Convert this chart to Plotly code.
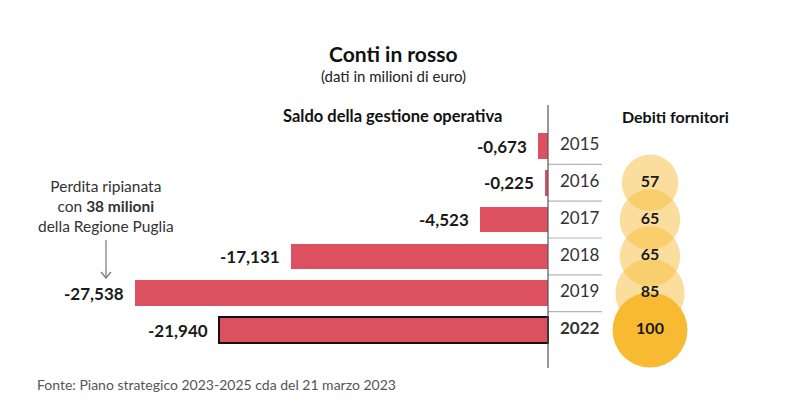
import plotly.graph_objects as go

years = ["2015", "2016", "2017", "2018", "2019", "2022"]
saldo = [-0.673, -0.225, -4.523, -17.131, -27.538, -21.940]
saldo_labels = ["-0,673", "-0,225", "-4,523", "-17,131", "-27,538", "-21,940"]
debiti_years = ["2016", "2017", "2018", "2019", "2022"]
debiti = [57, 65, 65, 85, 100]

OFF = 8  # page body margin
W, H = 800 - OFF, 409 - OFF


def px(x):
    return (x - OFF) / W


def py(y):
    return 1 - (y - OFF) / H


px_per_unit = 15.0
zero_px = 548 - OFF
xr = [-zero_px / px_per_unit, (W - zero_px) / px_per_unit]
row0, row_h = 146 - OFF, 36.8
yr = [(H - row0) / row_h, -row0 / row_h]

BAR = "#DC5060"
fig = go.Figure()

# bars
fig.add_trace(go.Bar(
    y=years, x=saldo, orientation="h", width=0.7,
    marker=dict(color=BAR,
                line=dict(color=["rgba(0,0,0,0)"] * 5 + ["#111111"], width=[0] * 5 + [2])),
    hoverinfo="skip", xaxis="x", yaxis="y",
))
# year labels
year_text = [f"<b>{y}</b>" if y == "2022" else y for y in years]
fig.add_trace(go.Scatter(
    y=years, x=[0.8] * len(years), mode="text", text=year_text,
    textposition="middle right",
    textfont=dict(family="Lato", size=17, color="#333333"),
    hoverinfo="skip", xaxis="x", yaxis="y",
))
# bubbles
max_d = 75
sref = 2 * max(debiti) / (max_d ** 2)
fig.add_trace(go.Scatter(
    y=debiti_years, x=[0] * len(debiti), mode="markers+text",
    text=[str(v) for v in debiti],
    textposition="middle center",
    textfont=dict(family="Lato", size=16, color="#1a1a1a", weight="bold"),
    marker=dict(size=debiti, sizemode="area", sizeref=sref, opacity=1,
                color=["rgba(248,190,60,0.5)"] * 4 + ["rgb(248,185,51)"],
                line=dict(width=0)),
    hoverinfo="skip", xaxis="x2", yaxis="y",
))

shapes = []
for i in range(5):
    shapes.append(dict(type="line", xref="x", yref="y", x0=0, x1=(602 - 548) / px_per_unit,
                       y0=i + 0.5, y1=i + 0.5, line=dict(color="#b5b5b5", width=1.2), layer="below"))
shapes.append(dict(type="line", xref="x", yref="y", x0=0, x1=0,
                   y0=(105 - 146) / row_h, y1=(368 - 146) / row_h,
                   line=dict(color="#555555", width=1.2)))
# annotation arrow (line + open chevron)
ax_px, a_top, a_bot = 106, 240, 278
shapes.append(dict(type="line", xref="paper", yref="paper", x0=px(ax_px), x1=px(ax_px),
                   y0=py(a_top), y1=py(a_bot), line=dict(color="#777777", width=1.2)))
shapes.append(dict(type="path", xref="paper", yref="paper",
                   path=f"M {px(ax_px - 5)},{py(a_bot - 6)} L {px(ax_px)},{py(a_bot)} "
                        f"L {px(ax_px + 5)},{py(a_bot - 6)}",
                   line=dict(color="#777777", width=1.2)))

annotations = []
# value labels (category axis positions are given by category index)
for idx, (xv, lab) in enumerate(zip(saldo, saldo_labels)):
    annotations.append(dict(text=f"<b>{lab}</b>", x=xv, y=idx, xref="x", yref="y",
                            xanchor="right", yanchor="middle", xshift=-9, showarrow=False,
                            font=dict(family="Lato", size=17, color="#1a1a1a")))

annotations += [
    dict(text="<b>Conti in rosso</b>", x=px(393), y=py(54), xref="paper", yref="paper",
         xanchor="center", yanchor="middle",
         showarrow=False, font=dict(family="Lato", size=21, color="#111111")),
    dict(text="(dati in milioni di euro)", x=px(393), y=py(76), xref="paper", yref="paper",
         xanchor="center", yanchor="middle",
         showarrow=False, font=dict(family="Lato", size=15, color="#222222")),
    dict(text="<b>Saldo della gestione operativa</b>", x=px(504), y=py(116), xref="paper", yref="paper",
         xanchor="right", yanchor="middle", showarrow=False,
         font=dict(family="Lato", size=16.5, color="#111111")),
    dict(text="<b>Debiti fornitori</b>", x=px(675), y=py(116), xref="paper", yref="paper",
         xanchor="center", yanchor="middle", showarrow=False,
         font=dict(family="Lato", size=16, color="#111111")),
    dict(text="Perdita ripianata<br>con <b>38 milioni</b><br>della Regione Puglia",
         x=px(106), y=py(206), xref="paper", yref="paper", showarrow=False, align="center",
         xanchor="center", yanchor="middle",
         font=dict(family="Lato", size=15.5, color="#333333")),
    dict(text="Fonte: Piano strategico 2023-2025 cda del 21 marzo 2023", x=px(35), y=py(384),
         xref="paper", yref="paper", xanchor="left", yanchor="middle", showarrow=False,
         font=dict(family="Lato", size=14, color="#555555")),
]

fig.update_layout(
    width=W, height=H, margin=dict(l=0, r=0, t=0, b=0),
    paper_bgcolor="white", plot_bgcolor="white", showlegend=False,
    xaxis=dict(range=xr, visible=False, fixedrange=True),
    xaxis2=dict(domain=[px(612), px(688)], range=[-1, 1], visible=False, anchor="y"),
    yaxis=dict(type="category", categoryorder="array", categoryarray=years,
               range=yr, visible=False),
    shapes=shapes, annotations=annotations, bargap=0,
)
fig.write_html("out.html")
